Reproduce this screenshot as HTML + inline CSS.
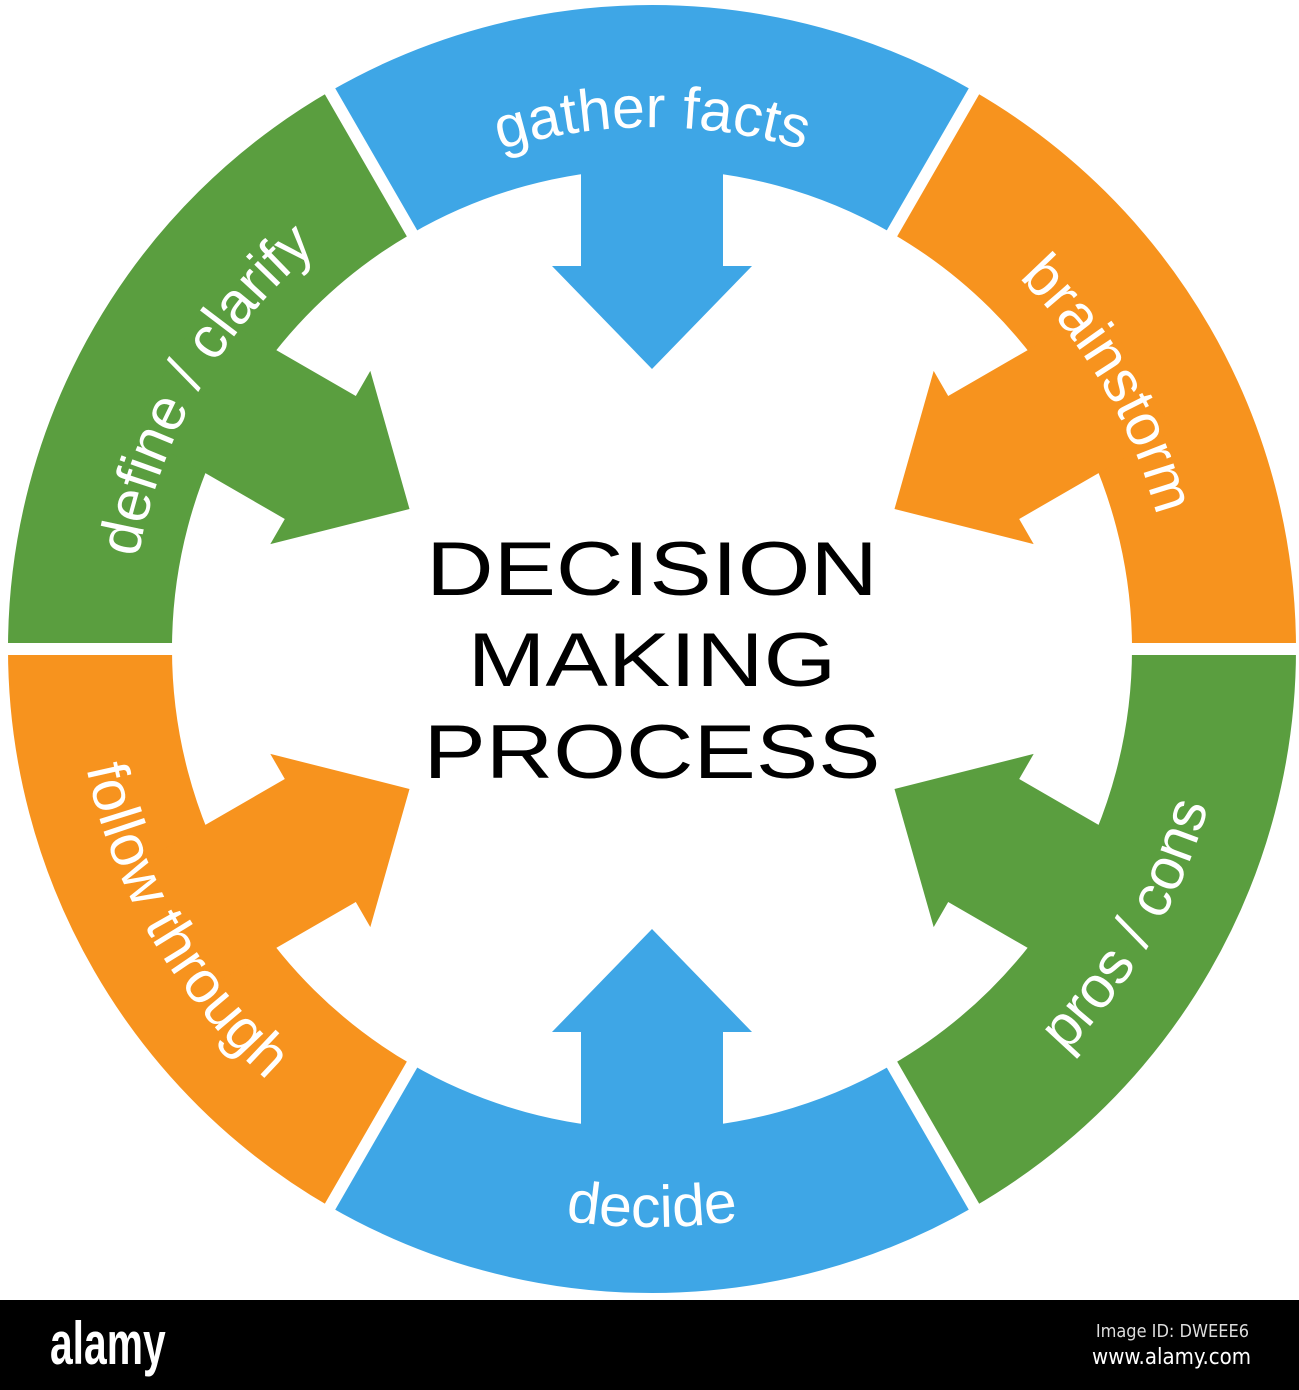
<!DOCTYPE html>
<html><head><meta charset="utf-8">
<style>
html,body{margin:0;padding:0;background:#fff;}
svg{display:block;}
</style></head>
<body>
<svg width="1299" height="1390" viewBox="0 0 1299 1390" xmlns="http://www.w3.org/2000/svg">
<rect width="1299" height="1390" fill="#fff"/>
<g fill="none" stroke-width="164">
<path d="M371,162.3 A562,562 0 0 1 933,162.3" stroke="#3ea6e6"/>
<path d="M933,162.3 A562,562 0 0 1 1214,649" stroke="#f7931e"/>
<path d="M1214,649 A562,562 0 0 1 933,1135.7" stroke="#5a9e3f"/>
<path d="M933,1135.7 A562,562 0 0 1 371,1135.7" stroke="#3ea6e6"/>
<path d="M371,1135.7 A562,562 0 0 1 90,649" stroke="#f7931e"/>
<path d="M90,649 A562,562 0 0 1 371,162.3" stroke="#5a9e3f"/>
</g>
<g transform="translate(652,649)">
<polygon points="0,-280 100,-383 71,-383 71,-560 -71,-560 -71,-383 -100,-383" fill="#3ea6e6"/>
<polygon points="0,-280 100,-383 71,-383 71,-560 -71,-560 -71,-383 -100,-383" fill="#f7931e" transform="rotate(60)"/>
<polygon points="0,-280 100,-383 71,-383 71,-560 -71,-560 -71,-383 -100,-383" fill="#5a9e3f" transform="rotate(120)"/>
<polygon points="0,-280 100,-383 71,-383 71,-560 -71,-560 -71,-383 -100,-383" fill="#3ea6e6" transform="rotate(180)"/>
<polygon points="0,-280 100,-383 71,-383 71,-560 -71,-560 -71,-383 -100,-383" fill="#f7931e" transform="rotate(240)"/>
<polygon points="0,-280 100,-383 71,-383 71,-560 -71,-560 -71,-383 -100,-383" fill="#5a9e3f" transform="rotate(300)"/>
</g>
<g stroke="#fff" stroke-width="12">
<line x1="887" y1="242" x2="982" y2="77.4"/>
<line x1="1122" y1="649" x2="1312" y2="649"/>
<line x1="887" y1="1056" x2="982" y2="1220.6"/>
<line x1="417" y1="1056" x2="322" y2="1220.6"/>
<line x1="182" y1="649" x2="-8" y2="649"/>
<line x1="417" y1="242" x2="322" y2="77.4"/>
</g>
<defs>
<path id="tp" d="M130,649 A522,522 0 0 1 1174,649"/>
<path id="bp" d="M74,649 A578,578 0 0 0 1230,649"/>
</defs>
<g font-family="Liberation Sans, sans-serif" font-size="59" fill="#fff" text-anchor="middle">
<text><textPath href="#tp" startOffset="50%">gather facts</textPath></text>
<text><textPath href="#tp" startOffset="83.3%">brainstorm</textPath></text>
<text><textPath href="#tp" startOffset="16.7%">define / clarify</textPath></text>
<text><textPath href="#bp" startOffset="16.7%">follow through</textPath></text>
<text><textPath href="#bp" startOffset="50%">decide</textPath></text>
<text><textPath href="#bp" startOffset="83.3%">pros / cons</textPath></text>
</g>
<g font-family="Liberation Sans, sans-serif" font-size="76" fill="#000" text-anchor="middle" transform="translate(652,0) scale(1.23,1) translate(-652,0)">
<text x="652" y="595">DECISION</text>
<text x="652" y="686">MAKING</text>
<text x="652" y="778">PROCESS</text>
</g>
<rect x="0" y="1300" width="1299" height="90" fill="#000"/>
<text font-family="Liberation Sans, sans-serif" font-weight="bold" font-size="60" fill="#fff" transform="translate(50,1364) scale(0.68,1)">alamy</text>
<text x="1249" y="1337" font-family="DejaVu Sans Condensed, DejaVu Sans, sans-serif" font-size="18" fill="#ddd" text-anchor="end">Image ID: DWEEE6</text>
<text x="1251" y="1364" font-family="DejaVu Sans Condensed, DejaVu Sans, sans-serif" font-size="22" fill="#fff" text-anchor="end">www.alamy.com</text>
</svg>
</body></html>
